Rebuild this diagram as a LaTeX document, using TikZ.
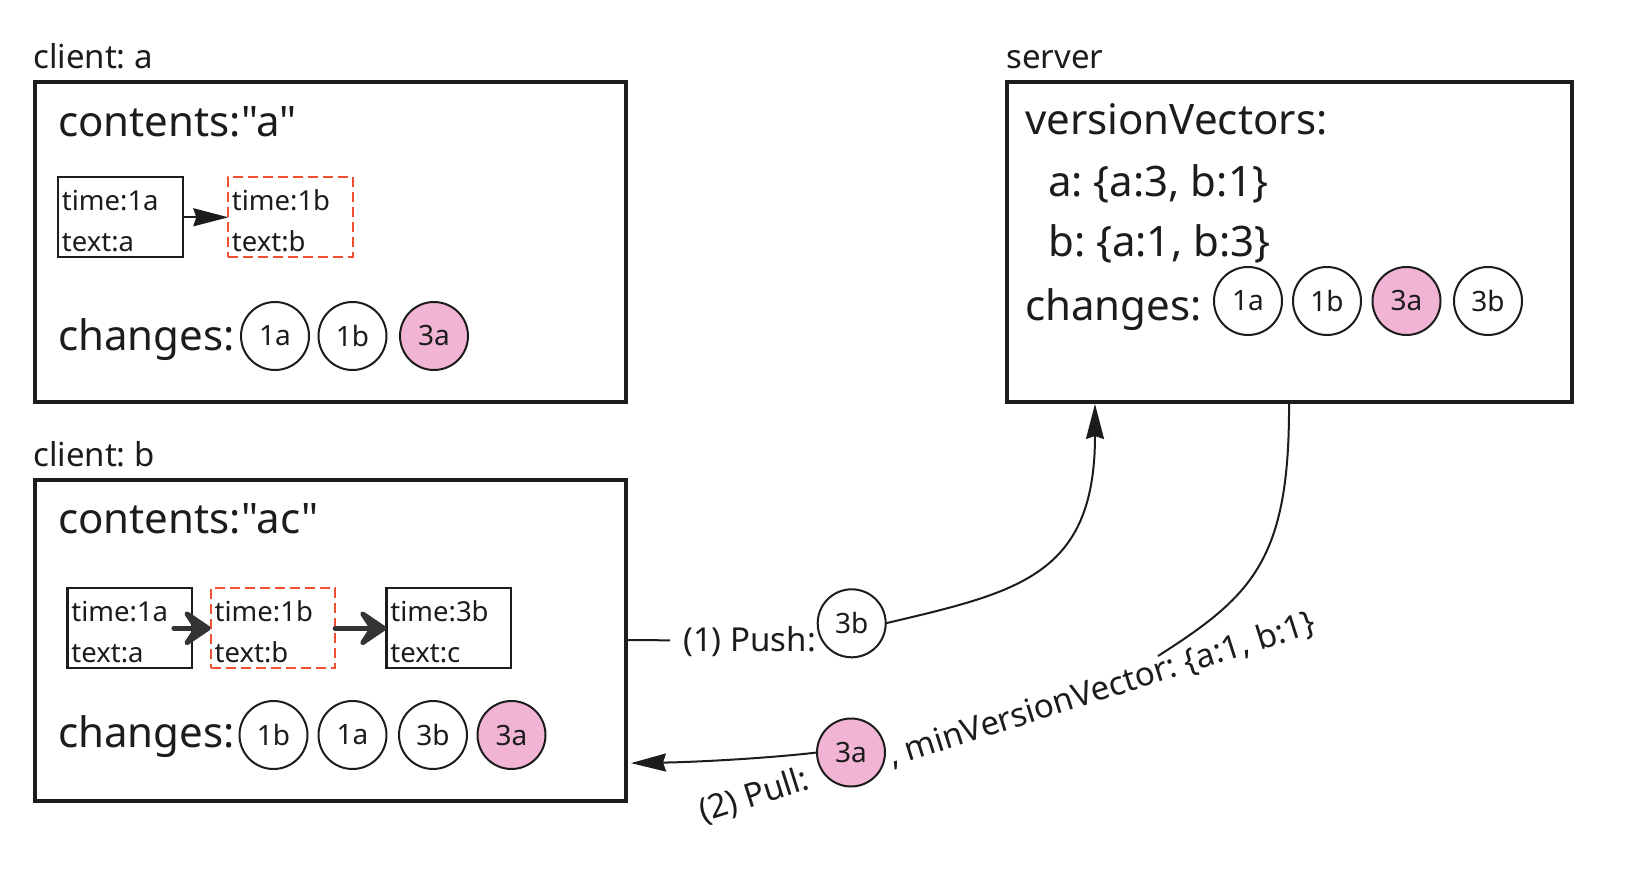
\documentclass[tikz,border=0pt]{standalone}
\usepackage{fontspec}
\setmainfont{Noto Sans}[Ligatures=TeXOff]
\usetikzlibrary{arrows.meta,calc}

\definecolor{ink}{RGB}{28,28,28}
\definecolor{arrowgray}{RGB}{51,51,51}
\definecolor{pinkfill}{RGB}{242,180,212}
\definecolor{dashred}{RGB}{242,78,50}

\newcommand\fsize[1]{\fontsize{#1}{#1}\selectfont}
\frenchspacing

\begin{document}
\begin{tikzpicture}[x=1pt,y=-1pt,
  panel/.style={draw=ink, line width=4pt, rectangle, inner sep=0pt, outer sep=0pt, anchor=north west},
  cell/.style={draw=ink, line width=2.2pt, rectangle, inner sep=0pt, outer sep=0pt, anchor=north west,
               minimum width=124.5pt, minimum height=80pt},
  newcell/.style={cell, draw=dashred, dash pattern=on 10pt off 5pt},
  celltext/.style={anchor=base west, inner sep=0pt, font=\fsize{27.5}, text=ink},
  bigtext/.style={anchor=base west, inner sep=0pt, font=\fsize{42}, text=ink},
  caption/.style={anchor=base west, inner sep=0pt, font=\fsize{33}, text=ink},
  chg/.style={circle, draw=ink, line width=2pt, minimum size=68pt, inner sep=0pt, outer sep=0pt,
              font=\fsize{28}, text=ink, fill=white},
  chgnew/.style={chg, fill=pinkfill},
  edge/.style={draw=ink, line width=2pt},
  thinarrow/.style={edge, -{Stealth[length=35pt,width=18pt,inset=3pt]}},
  thickarrow/.style={draw=arrowgray, line width=5pt, line cap=round,
                     -{Stealth[length=34pt,width=46pt,inset=15pt,round]}},
]
\useasboundingbox (0,0) rectangle (1642,880);

% ---------- client a ----------
\node[caption] (calabel) at (33,68.3) {client: a};
\node[panel, minimum width=591.4pt, minimum height=320pt] (ca) at (34.6,82) {};
\node[bigtext] (cacontents) at (58,136.7) {contents:"a"};
\node[cell] (a1) at (58.3,177.3) {};
\node[newcell, minimum width=125pt] (a2) at (228.3,177.3) {};
\node[celltext] (a1t) at ($(a1.north west)+(3.4,33.4)$) {time:1a};
\node[celltext] (a1x) at ($(a1.north west)+(3.4,74.4)$) {text:a};
\node[celltext] (a2t) at ($(a2.north west)+(3.4,33.4)$) {time:1b};
\node[celltext] (a2x) at ($(a2.north west)+(3.4,74.4)$) {text:b};
\draw[thinarrow] (a1.east) -- (a2.west);
\node[bigtext] (cachanges) at (58,350) {changes:};
\node[chg] (ca1a) at (275,336) {1a};
\node[chg] (ca1b) at (352.5,336) {1b};
\node[chgnew] (ca3a) at (434,336) {3a};

% ---------- client b ----------
\node[caption] (cblabel) at (33,466) {client: b};
\node[panel, minimum width=591.4pt, minimum height=321pt] (cb) at (34.6,479.6) {};
\node[bigtext] (cbcontents) at (58,533) {contents:"ac"};
\node[cell] (b1) at (67.4,588.3) {};
\node[newcell] (b2) at (210.7,588.3) {};
\node[cell] (b3) at (386.4,588.3) {};
\node[celltext] (b1t) at ($(b1.north west)+(3.8,33.4)$) {time:1a};
\node[celltext] (b1x) at ($(b1.north west)+(3.8,74.4)$) {text:a};
\node[celltext] (b2t) at ($(b2.north west)+(3.8,33.4)$) {time:1b};
\node[celltext] (b2x) at ($(b2.north west)+(3.8,74.4)$) {text:b};
\node[celltext] (b3t) at ($(b3.north west)+(3.8,33.4)$) {time:3b};
\node[celltext] (b3x) at ($(b3.north west)+(3.8,74.4)$) {text:c};
\draw[thickarrow] ([xshift=-18pt]b1.east) -- (b2.west);
\draw[thickarrow] (b2.east) -- (b3.west);
\node[bigtext] (cbchanges) at (58,747.6) {changes:};
\node[chg] (cb1b) at (273.5,735) {1b};
\node[chg] (cb1a) at (352.5,735) {1a};
\node[chg] (cb3b) at (433,735) {3b};
\node[chgnew] (cb3a) at (511.5,735) {3a};

% ---------- server ----------
\node[caption] (svlabel) at (1006,68.3) {server};
\node[panel, minimum width=565pt, minimum height=320pt] (sv) at (1007,82) {};
\node[bigtext] (svvv) at (1025,135) {versionVectors:};
\node[bigtext] (sva) at (1048,196.7) {a: \{a:3, b:1\}};
\node[bigtext] (svb) at (1048,256.7) {b: \{a:1, b:3\}};
\node[bigtext] (svchanges) at (1025,320) {changes:};
\node[chg] (sv1a) at (1248,301) {1a};
\node[chg] (sv1b) at (1327,301) {1b};
\node[chgnew] (sv3a) at (1406.5,301) {3a};
\node[chg] (sv3b) at (1488,301) {3b};

% ---------- (1) push from client b to the server ----------
\coordinate (pushgap) at (670,640.3);
\draw[edge] (cb.east) -- (pushgap);
\node[caption] (pushlbl) at (683,651.7) {(1) Push:};
\node[chg] (push3b) at (851.7,623.3) {3b};
\draw[thinarrow] (push3b.east) .. controls (1018,592) and (1095,576) .. ([xshift=88pt,yshift=-2pt]sv.south west);

% ---------- (2) pull from the server to client b ----------
\coordinate (pullend) at (1158,656);
\draw[edge] ([xshift=282pt]sv.south west) .. controls (1290,560) and (1252,596) .. (pullend);
\node[caption, rotate=17.6] (pulllbl) at (703,823) {(2) Pull:};
\node[caption, rotate=17.6] (pullvec) at (892,767) {, minVersionVector: \{a:1, b:1\}};
\node[chgnew] (pull3a) at (851,752.5) {3a};
\draw[thinarrow] (pull3a.west) .. controls (770,758) and (700,762) .. ([xshift=5pt,yshift=-123pt]cb.east);

\end{tikzpicture}
\end{document}
